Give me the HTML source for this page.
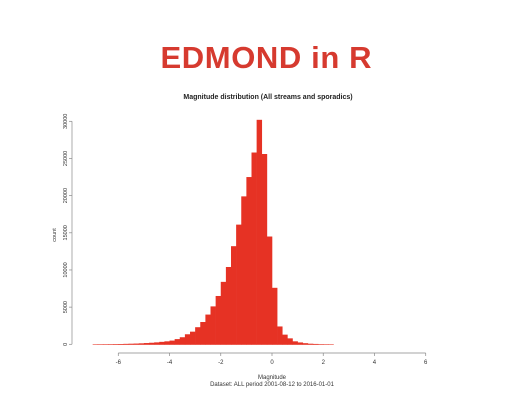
<!DOCTYPE html>
<html><head><meta charset="utf-8"><style>
html,body{margin:0;padding:0;background:#fff;width:532px;height:400px;overflow:hidden}
svg{display:block;font-family:"Liberation Sans",sans-serif}
</style></head><body>
<svg id="chart" width="532" height="400">
<text x="266" y="68" text-anchor="middle" font-size="31" font-weight="bold" fill="#d63a2f" textLength="211">EDMOND in R</text>
<text x="268" y="99" text-anchor="middle" font-size="7" font-weight="bold" fill="#222">Magnitude distribution (All streams and sporadics)</text>
<g id="bars"></g>
<g id="axes"></g>
<text x="272" y="379" text-anchor="middle" font-size="6" fill="#333">Magnitude</text>
<text x="272" y="386" text-anchor="middle" font-size="6" fill="#333">Dataset: ALL period 2001-08-12 to 2016-01-01</text>
<text transform="translate(56,235) rotate(-90)" text-anchor="middle" font-size="5.5" fill="#333">count</text>
</svg>
<script>
const binStarts = [-7.0,-6.8,-6.6,-6.4,-6.2,-6.0,-5.8,-5.6,-5.4,-5.2,-5.0,-4.8,-4.6,-4.4,-4.2,-4.0,-3.8,-3.6,-3.4,-3.2,-3.0,-2.8,-2.6,-2.4,-2.2,-2.0,-1.8,-1.6,-1.4,-1.2,-1.0,-0.8,-0.6,-0.4,-0.2,0.0,0.2,0.4,0.6,0.8,1.0,1.2,1.4,1.6,1.8,2.0,2.2];
const counts = [5,10,15,20,30,40,60,80,100,130,170,210,260,330,400,500,700,950,1350,1700,2300,3000,4000,5100,6500,8400,10400,13200,16100,19900,22500,25800,30200,25600,14500,7600,2400,1300,800,400,250,150,80,50,20,10,5];
const xTicks = [-6,-4,-2,0,2,4,6];
const yTicks = [0,5000,10000,15000,20000,25000,30000];
const binWidth = 0.2;
const NS="http://www.w3.org/2000/svg";
const xs = v => 272 + v*25.62;
const ys = v => 344.3 - v*(223/30000);
const bars=document.getElementById('bars'), axes=document.getElementById('axes');
function mk(tag, attrs, parent){const e=document.createElementNS(NS,tag);for(const k in attrs)e.setAttribute(k,attrs[k]);parent.appendChild(e);return e;}
binStarts.forEach((b,i)=>{
  const r=mk('rect',{x:xs(b),y:ys(counts[i]),width:xs(b+binWidth)-xs(b)+0.3,height:ys(0)-ys(counts[i])+0.5,fill:'#e63224'},bars);
  
  
});
const xl=mk('line',{x1:xs(-6),x2:xs(6),y1:353,y2:353,stroke:'#888','stroke-width':0.7},axes);


xTicks.forEach(t=>{
  mk('line',{x1:xs(t),x2:xs(t),y1:353,y2:356,stroke:'#888','stroke-width':0.7},axes);
  const tx=mk('text',{x:xs(t),y:364,'text-anchor':'middle','font-size':6,fill:'#333'},axes);
  tx.textContent=t;
  
  
});
const yl=mk('line',{x1:72,x2:72,y1:ys(0),y2:ys(30000),stroke:'#888','stroke-width':0.7},axes);


yTicks.forEach(t=>{
  mk('line',{x1:69,x2:72,y1:ys(t),y2:ys(t),stroke:'#888','stroke-width':0.7},axes);
  const tx=mk('text',{transform:`translate(67,${ys(t)}) rotate(-90)`,'text-anchor':'middle','font-size':5.5,fill:'#333'},axes);
  tx.textContent=t;
  
  
});
</script>
</body></html>
